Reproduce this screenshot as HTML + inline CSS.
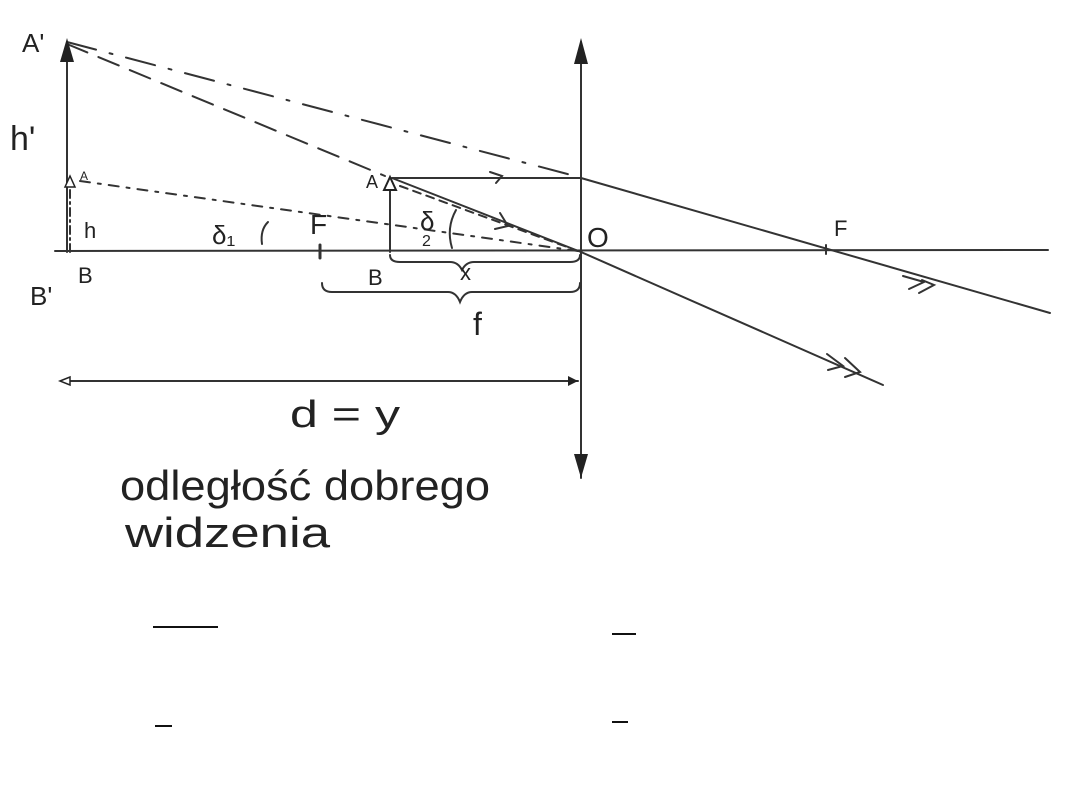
<!DOCTYPE html>
<html><head><meta charset="utf-8"><style>
html,body{margin:0;padding:0;background:#fff;}
svg{display:block}
text{font-family:"Liberation Sans",sans-serif;fill:#222;}
</style></head><body>
<svg width="1080" height="810" viewBox="0 0 1080 810" xmlns="http://www.w3.org/2000/svg">
<g stroke="#333" stroke-width="2" fill="none" stroke-linecap="round">
<line x1="55" y1="251" x2="1048" y2="250"/>
<line x1="581" y1="42" x2="581" y2="478"/>
<line x1="67" y1="252" x2="67" y2="48"/>
<line x1="390" y1="252" x2="390" y2="185"/>
<line x1="70" y1="252" x2="70" y2="188" stroke-dasharray="8,4,2,4"/>
<line x1="392" y1="178" x2="581" y2="178"/>
<line x1="581" y1="178" x2="1050" y2="313"/>
<line x1="392" y1="178" x2="581" y2="252"/>
<line x1="581" y1="252" x2="883" y2="385"/>
<line x1="67" y1="42" x2="575" y2="176" stroke-dasharray="30,14,3,14"/>
<line x1="67" y1="44" x2="385" y2="176" stroke-dasharray="22,12"/>
<line x1="80" y1="181" x2="578" y2="251" stroke-dasharray="10,8,3,8"/>
<line x1="400" y1="186" x2="578" y2="251" stroke-dasharray="8,6"/>
<line x1="62" y1="381" x2="578" y2="381"/>
<path d="M490 172 L502 176 L496 183"/>
<path d="M500 213 L508 226 L495 229"/>
<path d="M903 276 L924 282 L909 289"/>
<path d="M922 280 L934 285 L919 293"/>
<path d="M827 354 L843 366 L828 370"/>
<path d="M845 358 L860 372 L845 377"/>
<line x1="320" y1="245" x2="320" y2="258" stroke-width="3"/>
<line x1="826" y1="245" x2="826" y2="254"/>
<path d="M390 255 Q390 262 400 262 L450 262 Q458 262 462 270 Q466 262 474 262 L570 262 Q580 262 580 255"/>
<path d="M322 283 Q322 292 332 292 L448 292 Q456 292 460 302 Q464 292 472 292 L570 292 Q580 292 580 283"/>
<path d="M268 222 Q260 230 262 244"/>
<path d="M456 210 Q446 228 452 248"/>
</g>
<g fill="#222">
<polygon points="67,38 60,62 74,62"/>
<polygon points="581,38 574,64 588,64"/>
<polygon points="581,478 574,454 588,454"/>
<polygon points="390,177 384,190 396,190" fill="#fff" stroke="#222" stroke-width="2"/>
<polygon points="70,176 65,187 75,187" fill="#fff" stroke="#222" stroke-width="1.5"/>
<polygon points="578,381 568,376 568,386"/>
<polygon points="60,381 70,377 70,385" fill="#fff" stroke="#222" stroke-width="1.5"/>
</g>
<g font-size="26">
<text x="22" y="52">A'</text>
<text x="10" y="150" font-size="34">h'</text>
<text x="80" y="180" font-size="12">A</text>
<text x="84" y="238" font-size="22">h</text>
<text x="30" y="305">B'</text>
<text x="78" y="283" font-size="22">B</text>
<text x="212" y="244">δ₁</text>
<text x="310" y="234" font-size="28">F</text>
<text x="366" y="188" font-size="18">A</text>
<text x="420" y="230" font-size="26">δ</text>
<text x="422" y="246" font-size="16">2</text>
<text x="368" y="285" font-size="22">B</text>
<text x="460" y="280" font-size="22">x</text>
<text x="587" y="247" font-size="28">O</text>
<text x="834" y="236" font-size="22">F</text>
<text x="473" y="335" font-size="32">f</text>
<text x="290" y="427" font-size="38" textLength="110" lengthAdjust="spacingAndGlyphs">d = y</text>
<text x="120" y="500" font-size="42" textLength="370" lengthAdjust="spacingAndGlyphs">odległość dobrego</text>
<text x="125" y="547" font-size="42" textLength="205" lengthAdjust="spacingAndGlyphs">widzenia</text>
</g>
<g stroke="#111" stroke-width="2">
<line x1="153" y1="627" x2="218" y2="627"/>
<line x1="612" y1="634" x2="636" y2="634"/>
<line x1="155" y1="726" x2="172" y2="726"/>
<line x1="612" y1="722" x2="628" y2="722"/>
</g>
</svg>
</body></html>
